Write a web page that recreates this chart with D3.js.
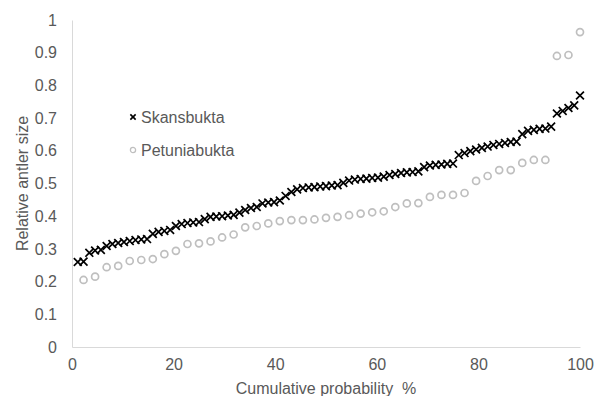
<!DOCTYPE html>
<html>
<head>
<meta charset="utf-8">
<script src="https://cdn.jsdelivr.net/npm/d3@7"></script>
<style>
  body { margin: 0; background: #fff; }
  svg text { font-family: "Liberation Sans", Arial, sans-serif; }
</style>
</head>
<body>
<div id="chart-container"></div>
<script>
// ranked relative antler sizes
const skansbukta = [
  0.260, 0.261, 0.288, 0.295, 0.297, 0.309, 0.315, 0.318, 0.321, 0.324,
  0.327, 0.329, 0.330, 0.346, 0.352, 0.355, 0.358, 0.370, 0.376, 0.379,
  0.381, 0.382, 0.391, 0.398, 0.399, 0.400, 0.402, 0.404, 0.411, 0.419,
  0.425, 0.428, 0.439, 0.442, 0.443, 0.448, 0.462, 0.474, 0.482, 0.486,
  0.488, 0.489, 0.491, 0.492, 0.494, 0.495, 0.502, 0.509, 0.512, 0.514,
  0.515, 0.517, 0.518, 0.521, 0.526, 0.529, 0.532, 0.534, 0.535, 0.537,
  0.550, 0.555, 0.557, 0.558, 0.560, 0.561, 0.587, 0.593, 0.599, 0.604,
  0.609, 0.613, 0.618, 0.621, 0.624, 0.627, 0.628, 0.651, 0.661, 0.664,
  0.667, 0.668, 0.674, 0.714, 0.722, 0.731, 0.739, 0.769
];
const petuniabukta = [
  0.205, 0.215, 0.244, 0.248, 0.263, 0.266, 0.269, 0.284, 0.294, 0.315,
  0.317, 0.323, 0.335, 0.344, 0.366, 0.370, 0.378, 0.385, 0.388, 0.388,
  0.390, 0.395, 0.398, 0.403, 0.408, 0.412, 0.415, 0.428, 0.439, 0.440,
  0.459, 0.465, 0.465, 0.471, 0.508, 0.523, 0.541, 0.541, 0.563, 0.572,
  0.572, 0.890, 0.893, 0.963
];
const xTicks = [0, 20, 40, 60, 80, 100];
const yTicks = [0, 0.1, 0.2, 0.3, 0.4, 0.5, 0.6, 0.7, 0.8, 0.9, 1];
const seriesNames = ["Skansbukta", "Petuniabukta"];

// cumulative probability (%) from the rank of each value
function cumulative(values) {
  return values.map((v, i) => ({ p: (i + 1) / values.length * 100, v: v }));
}

const W = 603, H = 396;
const margin = { top: 20, right: 23, bottom: 49, left: 72 };
const width = W - margin.left - margin.right;
const height = H - margin.top - margin.bottom;
const grey = "#595959";

const svg = d3.select("#chart-container")
  .append("svg")
  .attr("width", W)
  .attr("height", H);

const g = svg.append("g")
  .attr("transform", `translate(${margin.left},${margin.top})`);

const x = d3.scaleLinear().domain([0, 100]).range([0, width]);
const y = d3.scaleLinear().domain([0, 1]).range([height, 0]);

// axes
const xAxis = g.append("g")
  .attr("transform", `translate(0,${height})`)
  .call(d3.axisBottom(x).tickValues(xTicks).tickSize(0).tickPadding(12));

const yAxis = g.append("g")
  .call(d3.axisLeft(y).tickValues(yTicks).tickSize(0).tickPadding(15)
    .tickFormat(d3.format("~g")));

[xAxis, yAxis].forEach(a => {
  a.select(".domain").attr("stroke", "#d9d9d9").attr("stroke-width", 1);
  a.selectAll("text").attr("fill", grey).style("font-size", "16px");
});

// Petuniabukta circles
g.append("g")
  .selectAll("circle")
  .data(cumulative(petuniabukta))
  .join("circle")
  .attr("cx", d => x(d.p))
  .attr("cy", d => y(d.v))
  .attr("r", 3.5)
  .attr("fill", "none")
  .attr("stroke", "#bfbfbf")
  .attr("stroke-width", 1.7);

// Skansbukta crosses
const cross = d3.symbol().type(d3.symbolX).size(42);
g.append("g")
  .selectAll("path")
  .data(cumulative(skansbukta))
  .join("path")
  .attr("transform", d => `translate(${x(d.p)},${y(d.v)})`)
  .attr("d", cross)
  .attr("fill", "none")
  .attr("stroke", "#000")
  .attr("stroke-width", 1.7);

// legend
const legend = svg.append("g").attr("transform", "translate(133,117)");
legend.append("path")
  .attr("d", d3.symbol().type(d3.symbolX).size(20))
  .attr("fill", "none")
  .attr("stroke", "#000")
  .attr("stroke-width", 1.6);
legend.append("circle")
  .attr("cy", 33)
  .attr("r", 2.6)
  .attr("fill", "none")
  .attr("stroke", "#bfbfbf")
  .attr("stroke-width", 1.3);
legend.selectAll("text")
  .data(seriesNames)
  .join("text")
  .attr("x", 8)
  .attr("y", (d, i) => i * 33)
  .attr("dy", "0.35em")
  .attr("fill", grey)
  .style("font-size", "16px")
  .text(d => d);

// axis titles
svg.append("text")
  .attr("text-anchor", "middle")
  .attr("x", margin.left + width / 2)
  .attr("y", H - 2)
  .attr("fill", grey)
  .style("font-size", "16px")
  .text("Cumulative probability\u00a0\u00a0%");

svg.append("text")
  .attr("text-anchor", "middle")
  .attr("transform", "rotate(-90)")
  .attr("x", -(margin.top + height / 2))
  .attr("y", 28)
  .attr("fill", grey)
  .style("font-size", "16px")
  .text("Relative antler size");
</script>
</body>
</html>
